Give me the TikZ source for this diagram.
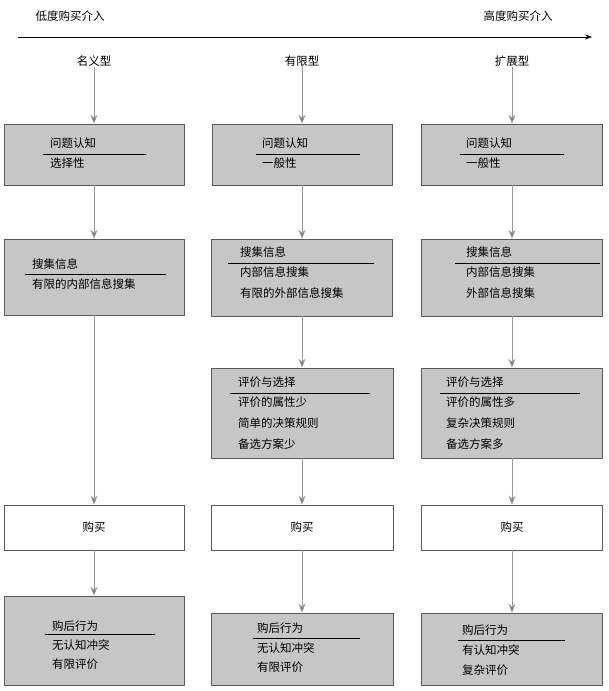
\documentclass[tikz,border=0pt]{standalone}
\usepackage{fontspec}
\setmainfont{Noto Sans CJK SC}
\usetikzlibrary{arrows.meta}
\begin{document}
\begin{tikzpicture}[x=1pt,y=-1pt,
  gbox/.style={draw=gray!70!black,fill=gray!45,line width=0.6pt},
  wbox/.style={draw=gray!70!black,fill=white,line width=0.6pt},
  txt/.style={anchor=west,inner sep=0pt,font=\fontsize{11.5}{13}\selectfont},
  ctxt/.style={inner sep=0pt,font=\fontsize{11.5}{13}\selectfont},
  flow/.style={draw=gray!80,line width=0.8pt,-{Stealth[length=9pt,width=7pt,fill=gray!90!black]}},
  rule/.style={line width=0.7pt}]
\useasboundingbox (0,0) rectangle (609,691);
% top
\node[ctxt] (lo) at (70,16) {低度购买介入};
\node[ctxt] (hi) at (518,16) {高度购买介入};
\coordinate (as) at (18,37); \coordinate (ae) at (592,37);
\draw[line width=0.6pt,-{Stealth[length=7pt,width=5pt]}] (as) -- (ae);
% column labels
\node[ctxt] (l1) at (94,61) {名义型};
\node[ctxt] (l2) at (302,61) {有限型};
\node[ctxt] (l3) at (512,61) {扩展型};
% boxes col1
\node[gbox,minimum width=180,minimum height=61] (a1) at (94,154.5) {};
\node[gbox,minimum width=180,minimum height=76] (a2) at (94,277) {};
\node[wbox,minimum width=180,minimum height=45] (a4) at (94,527.5) {};
\node[gbox,minimum width=180,minimum height=89] (a5) at (94,640.5) {};
% col2
\node[gbox,minimum width=180,minimum height=61] (b1) at (302,154.5) {};
\node[gbox,minimum width=181,minimum height=77] (b2) at (302,277.5) {};
\node[gbox,minimum width=182,minimum height=90] (b3) at (302,413) {};
\node[wbox,minimum width=182,minimum height=45] (b4) at (302,527.5) {};
\node[gbox,minimum width=182,minimum height=72] (b5) at (302,649) {};
% col3
\node[gbox,minimum width=181,minimum height=61] (c1) at (512,154.5) {};
\node[gbox,minimum width=181,minimum height=77] (c2) at (512,277.5) {};
\node[gbox,minimum width=181,minimum height=90] (c3) at (512,413) {};
\node[wbox,minimum width=181,minimum height=45] (c4) at (512,527.5) {};
\node[gbox,minimum width=181,minimum height=72] (c5) at (512,649) {};
% arrows
\draw[flow] (l1) -- (a1); \draw[flow] (a1) -- (a2); \draw[flow] (a2) -- (a4); \draw[flow] (a4) -- (a5);
\draw[flow] (l2) -- (b1); \draw[flow] (b1) -- (b2); \draw[flow] (b2) -- (b3); \draw[flow] (b3) -- (b4); \draw[flow] (b4) -- (b5);
\draw[flow] (l3) -- (c1); \draw[flow] (c1) -- (c2); \draw[flow] (c2) -- (c3); \draw[flow] (c3) -- (c4); \draw[flow] (c4) -- (c5);
% col1 texts
\node[txt] (t1) at (50,143) {问题认知}; \draw[rule] (43,154) -- (146,154); \node[txt] (t2) at (50,163) {选择性};
\node[txt] (t3) at (32,264) {搜集信息}; \draw[rule] (25,274) -- (166,274); \node[txt] (t4) at (32,284) {有限的内部信息搜集};
\node[ctxt] (t5) at (94,527) {购买};
\node[txt] (t6) at (52,626) {购后行为}; \draw[rule] (45,634) -- (155,634);
\node[txt] (t7) at (52,645) {无认知冲突}; \node[txt] (t8) at (52,664) {有限评价};
% col2 texts
\node[txt] (u1) at (262,143) {问题认知}; \draw[rule] (256,154) -- (360,154); \node[txt] (u2) at (262,163) {一般性};
\node[txt] (u3) at (240,252) {搜集信息}; \draw[rule] (228,263) -- (374,263);
\node[txt] (u4) at (240,272) {内部信息搜集}; \node[txt] (u5) at (240,293) {有限的外部信息搜集};
\node[txt] (u6) at (238,382) {评价与选择}; \draw[rule] (230,393) -- (370,393);
\node[txt] (u7) at (238,402) {评价的属性少}; \node[txt] (u8) at (238,423) {简单的决策规则}; \node[txt] (u9) at (238,444) {备选方案少};
\node[ctxt] (u10) at (302,527) {购买};
\node[txt] (u11) at (257,628) {购后行为}; \draw[rule] (253,638) -- (360,638);
\node[txt] (u12) at (257,648) {无认知冲突}; \node[txt] (u13) at (257,667) {有限评价};
% col3 texts
\node[txt] (v1) at (466,143) {问题认知}; \draw[rule] (460,154) -- (564,154); \node[txt] (v2) at (466,163) {一般性};
\node[txt] (v3) at (466,252) {搜集信息}; \draw[rule] (455,263) -- (600,263);
\node[txt] (v4) at (466,272) {内部信息搜集}; \node[txt] (v5) at (466,293) {外部信息搜集};
\node[txt] (v6) at (446,382) {评价与选择}; \draw[rule] (440,393) -- (580,393);
\node[txt] (v7) at (446,402) {评价的属性多}; \node[txt] (v8) at (446,423) {复杂决策规则}; \node[txt] (v9) at (446,444) {备选方案多};
\node[ctxt] (v10) at (512,527) {购买};
\node[txt] (v11) at (462,630) {购后行为}; \draw[rule] (458,640) -- (565,640);
\node[txt] (v12) at (462,650) {有认知冲突}; \node[txt] (v13) at (462,670) {复杂评价};
\end{tikzpicture}
\end{document}
